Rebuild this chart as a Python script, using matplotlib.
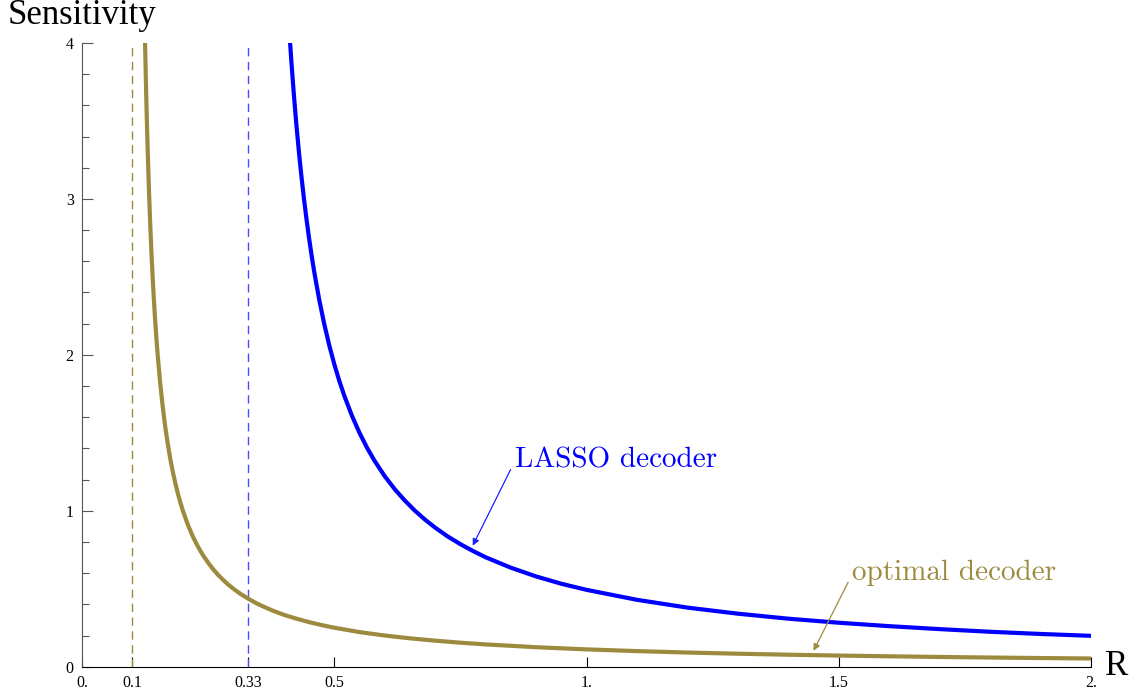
import numpy as np
import matplotlib.pyplot as plt
from matplotlib.ticker import FixedLocator, MultipleLocator

# values (R vs sensitivity)
opt_r = [0.12, 0.122, 0.125, 0.1275, 0.13, 0.1325, 0.135, 0.1375, 0.14, 0.1425, 0.145, 0.1475,
         0.15, 0.155, 0.16, 0.165, 0.17, 0.175, 0.18, 0.185, 0.19, 0.195, 0.2, 0.21, 0.22,
         0.23, 0.24, 0.25, 0.26, 0.27, 0.28, 0.29, 0.3, 0.315, 0.33, 0.345, 0.36, 0.38, 0.4,
         0.425, 0.45, 0.475, 0.5, 0.55, 0.6, 0.65, 0.7, 0.75, 0.8, 0.9, 1.0, 1.1, 1.2, 1.3,
         1.4, 1.5, 1.6, 1.7, 1.8, 1.9, 2.0]
opt_s = [5.0, 4.545, 4.0, 3.636, 3.333, 3.077, 2.857, 2.667, 2.5, 2.353, 2.222, 2.105,
         2.0, 1.818, 1.667, 1.538, 1.429, 1.333, 1.25, 1.176, 1.111, 1.053, 1.0, 0.909, 0.833,
         0.769, 0.714, 0.667, 0.625, 0.588, 0.556, 0.526, 0.5, 0.465, 0.435, 0.408, 0.385, 0.357, 0.333,
         0.308, 0.286, 0.267, 0.25, 0.222, 0.2, 0.182, 0.167, 0.154, 0.143, 0.125, 0.111, 0.1, 0.0909, 0.0833,
         0.0769, 0.0714, 0.0667, 0.0625, 0.0588, 0.0556, 0.0526]

lasso_r = [0.41, 0.4125, 0.415, 0.42, 0.425, 0.43, 0.435, 0.44, 0.445, 0.45, 0.455, 0.46,
           0.47, 0.48, 0.49, 0.5, 0.51, 0.52, 0.535, 0.55, 0.565, 0.58, 0.6, 0.62, 0.64,
           0.66, 0.68, 0.7, 0.725, 0.75, 0.775, 0.8, 0.85, 0.9, 0.95, 1.0, 1.1, 1.2, 1.3,
           1.4, 1.5, 1.6, 1.7, 1.8, 1.9, 2.0]
lasso_s = [4.125, 4.0, 3.882, 3.667, 3.474, 3.3, 3.143, 3.0, 2.870, 2.75, 2.64, 2.538,
           2.357, 2.2, 2.0625, 1.941, 1.833, 1.737, 1.610, 1.5, 1.404, 1.32, 1.222, 1.138, 1.065,
           1.0, 0.943, 0.892, 0.835, 0.786, 0.742, 0.702, 0.635, 0.579, 0.532, 0.493, 0.429, 0.379, 0.340,
           0.308, 0.282, 0.260, 0.241, 0.224, 0.210, 0.198]

opt_limit = 0.1
lasso_limit = 0.33

xticks = [0, 0.1, 0.33, 0.5, 1, 1.5, 2]
xticklabels = ['0.', '0.1', '0.33', '0.5', '1.', '1.5', '2.']
yticks = [0, 1, 2, 3, 4]

olive = '#9c8b3f'
blue = '#0000ff'

plt.rcParams['font.family'] = ['Liberation Serif', 'DejaVu Serif']

fig = plt.figure(figsize=(11.38, 6.96), dpi=100)
ax = fig.add_axes([82/1138, (696-666.7)/696, (1091-82)/1138, (666.7-43)/696])

ax.plot([opt_limit, opt_limit], [0, 4], color=olive, lw=1.0, dashes=(6, 4))
ax.plot([lasso_limit, lasso_limit], [0, 4], color='#4a4aff', lw=1.0, dashes=(6, 4))

ax.plot(opt_r, opt_s, color=olive, lw=3.0, solid_capstyle='butt', solid_joinstyle='round')
ax.plot(lasso_r, lasso_s, color=blue, lw=3.0, solid_capstyle='butt', solid_joinstyle='round')

ax.set_xlim(0, 2)
ax.set_ylim(0, 4)

ax.spines['top'].set_visible(False)
ax.spines['right'].set_visible(False)
ax.spines['left'].set_color('#555555')
ax.spines['bottom'].set_color('black')

ax.xaxis.set_major_locator(FixedLocator(xticks))
ax.set_xticklabels(xticklabels)
ax.yaxis.set_major_locator(FixedLocator(yticks))
ax.yaxis.set_minor_locator(MultipleLocator(0.2))
ax.tick_params(axis='x', direction='in', length=7, width=0.8, labelsize=11.5, pad=6)
ax.tick_params(axis='y', which='major', direction='in', length=8, width=0.8, labelsize=11.5, pad=6, color='#555555')
ax.tick_params(axis='y', which='minor', direction='in', length=5, width=0.8, color='#555555')

fig.text(8/1138, 1 - 24/696, 'Sensitivity', fontsize=25, va='baseline', ha='left')
ax.text(2.028, 0, 'R', fontsize=25, va='center', ha='left', clip_on=False)

cm = ['cmr10', 'DejaVu Serif']
ax.annotate('', xy=(0.772, 0.76), xytext=(0.852, 1.28),
            arrowprops=dict(arrowstyle='-|>', color='#2020ff', lw=0.9, mutation_scale=10))
ax.text(0.858, 1.28, 'LASSO decoder', color=blue, fontsize=21, family=cm,
        ha='left', va='baseline')

ax.annotate('', xy=(1.4475, 0.086), xytext=(1.521, 0.557),
            arrowprops=dict(arrowstyle='-|>', color=olive, lw=0.9, mutation_scale=10))
ax.text(1.527, 0.557, 'optimal decoder', color=olive, fontsize=21, family=cm,
        ha='left', va='baseline')

fig.savefig('out.png', dpi=100)
